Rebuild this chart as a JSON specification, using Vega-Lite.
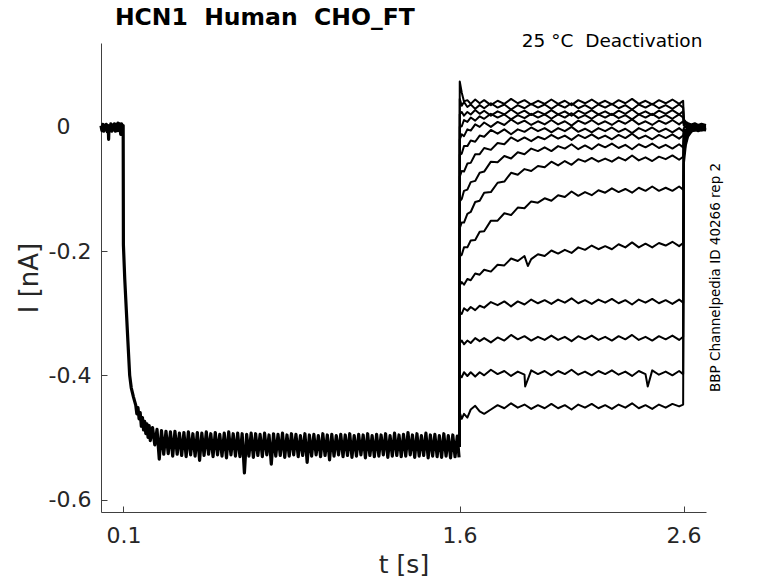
{
  "$schema": "https://vega.github.io/schema/vega-lite/v6.json",
  "width": 605,
  "height": 469,
  "autosize": {"type": "none"},
  "padding": {"left": 101, "top": 43, "right": 72, "bottom": 71},
  "background": "white",
  "config": {"view": {"stroke": null}, "font": "DejaVu Sans"},
  "datasets": {
    "sweeps": [
      {"s": "p", "t": 0, "I": 0.002}, {"s": "p", "t": 0.004, "I": -0.006}, {"s": "p", "t": 0.008, "I": 0.004},
      {"s": "p", "t": 0.012, "I": -0.007}, {"s": "p", "t": 0.016, "I": 0.003}, {"s": "p", "t": 0.02, "I": -0.005},
      {"s": "p", "t": 0.024, "I": 0.004}, {"s": "p", "t": 0.028, "I": -0.008}, {"s": "p", "t": 0.032, "I": 0.002},
      {"s": "p", "t": 0.034, "I": -0.02}, {"s": "p", "t": 0.036, "I": 0.001}, {"s": "p", "t": 0.04, "I": -0.006},
      {"s": "p", "t": 0.044, "I": 0.005}, {"s": "p", "t": 0.048, "I": -0.007}, {"s": "p", "t": 0.052, "I": 0.003},
      {"s": "p", "t": 0.056, "I": -0.005}, {"s": "p", "t": 0.06, "I": 0.005}, {"s": "p", "t": 0.064, "I": -0.007},
      {"s": "p", "t": 0.068, "I": 0.004}, {"s": "p", "t": 0.072, "I": -0.006}, {"s": "p", "t": 0.076, "I": 0.006},
      {"s": "p", "t": 0.08, "I": -0.006}, {"s": "p", "t": 0.084, "I": 0.005}, {"s": "p", "t": 0.088, "I": -0.012},
      {"s": "p", "t": 0.092, "I": 0.005}, {"s": "p", "t": 0.096, "I": -0.006}, {"s": "p", "t": 0.099, "I": 0.002},
      {"s": "p", "t": 0.1, "I": -0.19}, {"s": "p", "t": 0.106, "I": -0.245}, {"s": "p", "t": 0.113, "I": -0.295},
      {"s": "p", "t": 0.12, "I": -0.345}, {"s": "p", "t": 0.128, "I": -0.4}, {"s": "p", "t": 0.135, "I": -0.42},
      {"s": "p", "t": 0.145, "I": -0.435}, {"s": "p", "t": 0.155, "I": -0.448}, {"s": "p", "t": 0.16, "I": -0.462},
      {"s": "p", "t": 0.165, "I": -0.452}, {"s": "p", "t": 0.17, "I": -0.47}, {"s": "p", "t": 0.175, "I": -0.46},
      {"s": "p", "t": 0.18, "I": -0.482}, {"s": "p", "t": 0.185, "I": -0.468}, {"s": "p", "t": 0.19, "I": -0.488},
      {"s": "p", "t": 0.195, "I": -0.474}, {"s": "p", "t": 0.2, "I": -0.494}, {"s": "p", "t": 0.205, "I": -0.478},
      {"s": "p", "t": 0.21, "I": -0.5}, {"s": "p", "t": 0.215, "I": -0.481},
      {"s": "p", "t": 0.22, "I": -0.505}, {"s": "p", "t": 0.23, "I": -0.484}, {"s": "p", "t": 0.24, "I": -0.512},
      {"s": "p", "t": 0.25, "I": -0.487}, {"s": "p", "t": 0.26, "I": -0.535}, {"s": "p", "t": 0.27, "I": -0.489},
      {"s": "p", "t": 0.28, "I": -0.527}, {"s": "p", "t": 0.29, "I": -0.49}, {"s": "p", "t": 0.3, "I": -0.526},
      {"s": "p", "t": 0.31, "I": -0.491}, {"s": "p", "t": 0.32, "I": -0.53}, {"s": "p", "t": 0.33, "I": -0.49},
      {"s": "p", "t": 0.34, "I": -0.527}, {"s": "p", "t": 0.35, "I": -0.493}, {"s": "p", "t": 0.36, "I": -0.529},
      {"s": "p", "t": 0.37, "I": -0.492}, {"s": "p", "t": 0.38, "I": -0.531}, {"s": "p", "t": 0.39, "I": -0.491},
      {"s": "p", "t": 0.4, "I": -0.528}, {"s": "p", "t": 0.41, "I": -0.494}, {"s": "p", "t": 0.42, "I": -0.53},
      {"s": "p", "t": 0.43, "I": -0.492}, {"s": "p", "t": 0.44, "I": -0.537}, {"s": "p", "t": 0.45, "I": -0.493},
      {"s": "p", "t": 0.46, "I": -0.529}, {"s": "p", "t": 0.47, "I": -0.491}, {"s": "p", "t": 0.48, "I": -0.527},
      {"s": "p", "t": 0.49, "I": -0.494}, {"s": "p", "t": 0.5, "I": -0.531}, {"s": "p", "t": 0.51, "I": -0.492},
      {"s": "p", "t": 0.52, "I": -0.528}, {"s": "p", "t": 0.53, "I": -0.495}, {"s": "p", "t": 0.54, "I": -0.53},
      {"s": "p", "t": 0.55, "I": -0.493}, {"s": "p", "t": 0.56, "I": -0.533}, {"s": "p", "t": 0.57, "I": -0.491},
      {"s": "p", "t": 0.58, "I": -0.528}, {"s": "p", "t": 0.59, "I": -0.494}, {"s": "p", "t": 0.6, "I": -0.53},
      {"s": "p", "t": 0.61, "I": -0.493}, {"s": "p", "t": 0.62, "I": -0.531}, {"s": "p", "t": 0.63, "I": -0.494},
      {"s": "p", "t": 0.64, "I": -0.557}, {"s": "p", "t": 0.65, "I": -0.495}, {"s": "p", "t": 0.66, "I": -0.53},
      {"s": "p", "t": 0.67, "I": -0.493}, {"s": "p", "t": 0.68, "I": -0.532}, {"s": "p", "t": 0.69, "I": -0.494},
      {"s": "p", "t": 0.7, "I": -0.529}, {"s": "p", "t": 0.71, "I": -0.495}, {"s": "p", "t": 0.72, "I": -0.531},
      {"s": "p", "t": 0.73, "I": -0.493}, {"s": "p", "t": 0.74, "I": -0.528}, {"s": "p", "t": 0.75, "I": -0.496},
      {"s": "p", "t": 0.76, "I": -0.543}, {"s": "p", "t": 0.77, "I": -0.494}, {"s": "p", "t": 0.78, "I": -0.53},
      {"s": "p", "t": 0.79, "I": -0.495}, {"s": "p", "t": 0.8, "I": -0.529}, {"s": "p", "t": 0.81, "I": -0.493},
      {"s": "p", "t": 0.82, "I": -0.532}, {"s": "p", "t": 0.83, "I": -0.496}, {"s": "p", "t": 0.84, "I": -0.53},
      {"s": "p", "t": 0.85, "I": -0.494}, {"s": "p", "t": 0.86, "I": -0.528}, {"s": "p", "t": 0.87, "I": -0.495},
      {"s": "p", "t": 0.88, "I": -0.531}, {"s": "p", "t": 0.89, "I": -0.497}, {"s": "p", "t": 0.9, "I": -0.529},
      {"s": "p", "t": 0.91, "I": -0.494}, {"s": "p", "t": 0.92, "I": -0.54}, {"s": "p", "t": 0.93, "I": -0.496},
      {"s": "p", "t": 0.94, "I": -0.53}, {"s": "p", "t": 0.95, "I": -0.495}, {"s": "p", "t": 0.96, "I": -0.528},
      {"s": "p", "t": 0.97, "I": -0.497}, {"s": "p", "t": 0.98, "I": -0.531}, {"s": "p", "t": 0.99, "I": -0.494},
      {"s": "p", "t": 1.0, "I": -0.529}, {"s": "p", "t": 1.01, "I": -0.496}, {"s": "p", "t": 1.02, "I": -0.536},
      {"s": "p", "t": 1.03, "I": -0.495}, {"s": "p", "t": 1.04, "I": -0.53}, {"s": "p", "t": 1.05, "I": -0.497},
      {"s": "p", "t": 1.06, "I": -0.528}, {"s": "p", "t": 1.07, "I": -0.495}, {"s": "p", "t": 1.08, "I": -0.531},
      {"s": "p", "t": 1.09, "I": -0.496}, {"s": "p", "t": 1.1, "I": -0.529}, {"s": "p", "t": 1.11, "I": -0.494},
      {"s": "p", "t": 1.12, "I": -0.532}, {"s": "p", "t": 1.13, "I": -0.497}, {"s": "p", "t": 1.14, "I": -0.53},
      {"s": "p", "t": 1.15, "I": -0.495}, {"s": "p", "t": 1.16, "I": -0.528}, {"s": "p", "t": 1.17, "I": -0.496},
      {"s": "p", "t": 1.18, "I": -0.533}, {"s": "p", "t": 1.19, "I": -0.494}, {"s": "p", "t": 1.2, "I": -0.529},
      {"s": "p", "t": 1.21, "I": -0.497}, {"s": "p", "t": 1.22, "I": -0.531}, {"s": "p", "t": 1.23, "I": -0.495},
      {"s": "p", "t": 1.24, "I": -0.53}, {"s": "p", "t": 1.25, "I": -0.496}, {"s": "p", "t": 1.26, "I": -0.528},
      {"s": "p", "t": 1.27, "I": -0.494}, {"s": "p", "t": 1.28, "I": -0.532}, {"s": "p", "t": 1.29, "I": -0.497},
      {"s": "p", "t": 1.3, "I": -0.53}, {"s": "p", "t": 1.31, "I": -0.493}, {"s": "p", "t": 1.32, "I": -0.529},
      {"s": "p", "t": 1.33, "I": -0.496}, {"s": "p", "t": 1.34, "I": -0.531}, {"s": "p", "t": 1.35, "I": -0.495},
      {"s": "p", "t": 1.36, "I": -0.53}, {"s": "p", "t": 1.37, "I": -0.492}, {"s": "p", "t": 1.38, "I": -0.528},
      {"s": "p", "t": 1.39, "I": -0.496}, {"s": "p", "t": 1.4, "I": -0.532}, {"s": "p", "t": 1.41, "I": -0.494},
      {"s": "p", "t": 1.42, "I": -0.53}, {"s": "p", "t": 1.43, "I": -0.497}, {"s": "p", "t": 1.44, "I": -0.529},
      {"s": "p", "t": 1.45, "I": -0.493}, {"s": "p", "t": 1.46, "I": -0.533}, {"s": "p", "t": 1.47, "I": -0.496},
      {"s": "p", "t": 1.48, "I": -0.53}, {"s": "p", "t": 1.49, "I": -0.495}, {"s": "p", "t": 1.5, "I": -0.531},
      {"s": "p", "t": 1.51, "I": -0.497}, {"s": "p", "t": 1.52, "I": -0.532}, {"s": "p", "t": 1.53, "I": -0.494},
      {"s": "p", "t": 1.54, "I": -0.53}, {"s": "p", "t": 1.55, "I": -0.497}, {"s": "p", "t": 1.56, "I": -0.533},
      {"s": "p", "t": 1.57, "I": -0.496}, {"s": "p", "t": 1.58, "I": -0.531}, {"s": "p", "t": 1.59, "I": -0.498},
      {"s": "p", "t": 1.598, "I": -0.532},

      {"s": 1, "t": 1.6, "I": -0.515}, {"s": 1, "t": 1.601, "I": 0.073},
      {"s": 1, "t": 1.61, "I": 0.055}, {"s": 1, "t": 1.62, "I": 0.041}, {"s": 1, "t": 1.635, "I": 0.043}, {"s": 1, "t": 1.65, "I": 0.037},
      {"s": 1, "t": 1.67, "I": 0.044}, {"s": 1, "t": 1.69, "I": 0.038}, {"s": 1, "t": 1.71, "I": 0.043}, {"s": 1, "t": 1.74, "I": 0.035},
      {"s": 1, "t": 1.77, "I": 0.042}, {"s": 1, "t": 1.8, "I": 0.037}, {"s": 1, "t": 1.83, "I": 0.045}, {"s": 1, "t": 1.86, "I": 0.038},
      {"s": 1, "t": 1.89, "I": 0.043}, {"s": 1, "t": 1.92, "I": 0.036}, {"s": 1, "t": 1.95, "I": 0.042}, {"s": 1, "t": 1.98, "I": 0.037},
      {"s": 1, "t": 2.01, "I": 0.044}, {"s": 1, "t": 2.04, "I": 0.037}, {"s": 1, "t": 2.07, "I": 0.042}, {"s": 1, "t": 2.1, "I": 0.035},
      {"s": 1, "t": 2.13, "I": 0.043}, {"s": 1, "t": 2.16, "I": 0.038}, {"s": 1, "t": 2.19, "I": 0.044}, {"s": 1, "t": 2.22, "I": 0.037},
      {"s": 1, "t": 2.25, "I": 0.042}, {"s": 1, "t": 2.28, "I": 0.036}, {"s": 1, "t": 2.31, "I": 0.043}, {"s": 1, "t": 2.34, "I": 0.038},
      {"s": 1, "t": 2.37, "I": 0.045}, {"s": 1, "t": 2.4, "I": 0.037}, {"s": 1, "t": 2.43, "I": 0.042}, {"s": 1, "t": 2.46, "I": 0.036},
      {"s": 1, "t": 2.49, "I": 0.043}, {"s": 1, "t": 2.52, "I": 0.038}, {"s": 1, "t": 2.55, "I": 0.044}, {"s": 1, "t": 2.58, "I": 0.037},
      {"s": 1, "t": 2.598, "I": 0.042},
      {"s": 1, "t": 2.601, "I": 0.012}, {"s": 1, "t": 2.61, "I": 0.008}, {"s": 1, "t": 2.62, "I": 0.006}, {"s": 1, "t": 2.635, "I": 0.004},
      {"s": 1, "t": 2.65, "I": 0.006}, {"s": 1, "t": 2.665, "I": 0.003}, {"s": 1, "t": 2.68, "I": 0.005}, {"s": 1, "t": 2.7, "I": 0.003},

      {"s": 2, "t": 1.6, "I": -0.515}, {"s": 2, "t": 1.601, "I": 0.045},
      {"s": 2, "t": 1.61, "I": 0.034}, {"s": 2, "t": 1.62, "I": 0.04}, {"s": 2, "t": 1.635, "I": 0.032}, {"s": 2, "t": 1.65, "I": 0.036},
      {"s": 2, "t": 1.67, "I": 0.029}, {"s": 2, "t": 1.69, "I": 0.035}, {"s": 2, "t": 1.71, "I": 0.03}, {"s": 2, "t": 1.74, "I": 0.038},
      {"s": 2, "t": 1.77, "I": 0.031}, {"s": 2, "t": 1.8, "I": 0.036}, {"s": 2, "t": 1.83, "I": 0.028}, {"s": 2, "t": 1.86, "I": 0.035},
      {"s": 2, "t": 1.89, "I": 0.03}, {"s": 2, "t": 1.92, "I": 0.037}, {"s": 2, "t": 1.95, "I": 0.031}, {"s": 2, "t": 1.98, "I": 0.036},
      {"s": 2, "t": 2.01, "I": 0.029}, {"s": 2, "t": 2.04, "I": 0.036}, {"s": 2, "t": 2.07, "I": 0.031}, {"s": 2, "t": 2.1, "I": 0.038},
      {"s": 2, "t": 2.13, "I": 0.03}, {"s": 2, "t": 2.16, "I": 0.035}, {"s": 2, "t": 2.19, "I": 0.029}, {"s": 2, "t": 2.22, "I": 0.036},
      {"s": 2, "t": 2.25, "I": 0.031}, {"s": 2, "t": 2.28, "I": 0.037}, {"s": 2, "t": 2.31, "I": 0.03}, {"s": 2, "t": 2.34, "I": 0.035},
      {"s": 2, "t": 2.37, "I": 0.028}, {"s": 2, "t": 2.4, "I": 0.036}, {"s": 2, "t": 2.43, "I": 0.031}, {"s": 2, "t": 2.46, "I": 0.037},
      {"s": 2, "t": 2.49, "I": 0.03}, {"s": 2, "t": 2.52, "I": 0.035}, {"s": 2, "t": 2.55, "I": 0.029}, {"s": 2, "t": 2.58, "I": 0.036},
      {"s": 2, "t": 2.598, "I": 0.031},
      {"s": 2, "t": 2.601, "I": 0.01}, {"s": 2, "t": 2.61, "I": 0.006}, {"s": 2, "t": 2.62, "I": 0.005}, {"s": 2, "t": 2.635, "I": 0.002},
      {"s": 2, "t": 2.65, "I": 0.004}, {"s": 2, "t": 2.665, "I": 0.001}, {"s": 2, "t": 2.68, "I": 0.004}, {"s": 2, "t": 2.7, "I": 0.002},

      {"s": 3, "t": 1.6, "I": -0.515}, {"s": 3, "t": 1.601, "I": 0.02},
      {"s": 3, "t": 1.61, "I": 0.024}, {"s": 3, "t": 1.62, "I": 0.018}, {"s": 3, "t": 1.635, "I": 0.024}, {"s": 3, "t": 1.65, "I": 0.02},
      {"s": 3, "t": 1.67, "I": 0.027}, {"s": 3, "t": 1.69, "I": 0.021}, {"s": 3, "t": 1.71, "I": 0.026}, {"s": 3, "t": 1.74, "I": 0.018},
      {"s": 3, "t": 1.77, "I": 0.025}, {"s": 3, "t": 1.8, "I": 0.02}, {"s": 3, "t": 1.83, "I": 0.028}, {"s": 3, "t": 1.86, "I": 0.021},
      {"s": 3, "t": 1.89, "I": 0.026}, {"s": 3, "t": 1.92, "I": 0.019}, {"s": 3, "t": 1.95, "I": 0.025}, {"s": 3, "t": 1.98, "I": 0.02},
      {"s": 3, "t": 2.01, "I": 0.027}, {"s": 3, "t": 2.04, "I": 0.02}, {"s": 3, "t": 2.07, "I": 0.025}, {"s": 3, "t": 2.1, "I": 0.018},
      {"s": 3, "t": 2.13, "I": 0.026}, {"s": 3, "t": 2.16, "I": 0.021}, {"s": 3, "t": 2.19, "I": 0.027}, {"s": 3, "t": 2.22, "I": 0.02},
      {"s": 3, "t": 2.25, "I": 0.025}, {"s": 3, "t": 2.28, "I": 0.019}, {"s": 3, "t": 2.31, "I": 0.026}, {"s": 3, "t": 2.34, "I": 0.021},
      {"s": 3, "t": 2.37, "I": 0.028}, {"s": 3, "t": 2.4, "I": 0.02}, {"s": 3, "t": 2.43, "I": 0.025}, {"s": 3, "t": 2.46, "I": 0.019},
      {"s": 3, "t": 2.49, "I": 0.026}, {"s": 3, "t": 2.52, "I": 0.021}, {"s": 3, "t": 2.55, "I": 0.027}, {"s": 3, "t": 2.58, "I": 0.02},
      {"s": 3, "t": 2.598, "I": 0.025},
      {"s": 3, "t": 2.601, "I": 0.008}, {"s": 3, "t": 2.61, "I": 0.005}, {"s": 3, "t": 2.62, "I": 0.003}, {"s": 3, "t": 2.635, "I": 0.003},
      {"s": 3, "t": 2.65, "I": 0.001}, {"s": 3, "t": 2.665, "I": 0.003}, {"s": 3, "t": 2.68, "I": 0.001}, {"s": 3, "t": 2.7, "I": 0.002},

      {"s": 4, "t": 1.6, "I": -0.515}, {"s": 4, "t": 1.601, "I": 0.0},
      {"s": 4, "t": 1.61, "I": 0.001}, {"s": 4, "t": 1.62, "I": 0.011}, {"s": 4, "t": 1.635, "I": 0.008}, {"s": 4, "t": 1.65, "I": 0.015},
      {"s": 4, "t": 1.67, "I": 0.01}, {"s": 4, "t": 1.69, "I": 0.017}, {"s": 4, "t": 1.71, "I": 0.013}, {"s": 4, "t": 1.74, "I": 0.021},
      {"s": 4, "t": 1.77, "I": 0.015}, {"s": 4, "t": 1.8, "I": 0.02}, {"s": 4, "t": 1.83, "I": 0.012}, {"s": 4, "t": 1.86, "I": 0.019},
      {"s": 4, "t": 1.89, "I": 0.014}, {"s": 4, "t": 1.92, "I": 0.021}, {"s": 4, "t": 1.95, "I": 0.015}, {"s": 4, "t": 1.98, "I": 0.02},
      {"s": 4, "t": 2.01, "I": 0.013}, {"s": 4, "t": 2.04, "I": 0.02}, {"s": 4, "t": 2.07, "I": 0.015}, {"s": 4, "t": 2.1, "I": 0.022},
      {"s": 4, "t": 2.13, "I": 0.014}, {"s": 4, "t": 2.16, "I": 0.019}, {"s": 4, "t": 2.19, "I": 0.013}, {"s": 4, "t": 2.22, "I": 0.02},
      {"s": 4, "t": 2.25, "I": 0.015}, {"s": 4, "t": 2.28, "I": 0.021}, {"s": 4, "t": 2.31, "I": 0.014}, {"s": 4, "t": 2.34, "I": 0.019},
      {"s": 4, "t": 2.37, "I": 0.012}, {"s": 4, "t": 2.4, "I": 0.02}, {"s": 4, "t": 2.43, "I": 0.015}, {"s": 4, "t": 2.46, "I": 0.021},
      {"s": 4, "t": 2.49, "I": 0.014}, {"s": 4, "t": 2.52, "I": 0.019}, {"s": 4, "t": 2.55, "I": 0.013}, {"s": 4, "t": 2.58, "I": 0.02},
      {"s": 4, "t": 2.598, "I": 0.015},
      {"s": 4, "t": 2.601, "I": 0.005}, {"s": 4, "t": 2.61, "I": 0.003}, {"s": 4, "t": 2.62, "I": 0.001}, {"s": 4, "t": 2.635, "I": 0.002},
      {"s": 4, "t": 2.65, "I": 0.0}, {"s": 4, "t": 2.665, "I": 0.002}, {"s": 4, "t": 2.68, "I": 0.0}, {"s": 4, "t": 2.7, "I": 0.001},

      {"s": 5, "t": 1.6, "I": -0.515}, {"s": 5, "t": 1.601, "I": -0.02},
      {"s": 5, "t": 1.61, "I": -0.012}, {"s": 5, "t": 1.62, "I": -0.015}, {"s": 5, "t": 1.635, "I": -0.004}, {"s": 5, "t": 1.65, "I": -0.006},
      {"s": 5, "t": 1.67, "I": 0.004}, {"s": 5, "t": 1.69, "I": 0.0}, {"s": 5, "t": 1.71, "I": 0.007}, {"s": 5, "t": 1.74, "I": 0.0},
      {"s": 5, "t": 1.77, "I": 0.008}, {"s": 5, "t": 1.8, "I": 0.003}, {"s": 5, "t": 1.83, "I": 0.012}, {"s": 5, "t": 1.86, "I": 0.005},
      {"s": 5, "t": 1.89, "I": 0.01}, {"s": 5, "t": 1.92, "I": 0.003}, {"s": 5, "t": 1.95, "I": 0.009}, {"s": 5, "t": 1.98, "I": 0.004},
      {"s": 5, "t": 2.01, "I": 0.011}, {"s": 5, "t": 2.04, "I": 0.004}, {"s": 5, "t": 2.07, "I": 0.009}, {"s": 5, "t": 2.1, "I": 0.002},
      {"s": 5, "t": 2.13, "I": 0.01}, {"s": 5, "t": 2.16, "I": 0.005}, {"s": 5, "t": 2.19, "I": 0.011}, {"s": 5, "t": 2.22, "I": 0.004},
      {"s": 5, "t": 2.25, "I": 0.009}, {"s": 5, "t": 2.28, "I": 0.003}, {"s": 5, "t": 2.31, "I": 0.01}, {"s": 5, "t": 2.34, "I": 0.005},
      {"s": 5, "t": 2.37, "I": 0.012}, {"s": 5, "t": 2.4, "I": 0.004}, {"s": 5, "t": 2.43, "I": 0.009}, {"s": 5, "t": 2.46, "I": 0.003},
      {"s": 5, "t": 2.49, "I": 0.01}, {"s": 5, "t": 2.52, "I": 0.005}, {"s": 5, "t": 2.55, "I": 0.011}, {"s": 5, "t": 2.58, "I": 0.004},
      {"s": 5, "t": 2.598, "I": 0.009},
      {"s": 5, "t": 2.601, "I": 0.002}, {"s": 5, "t": 2.61, "I": 0.0}, {"s": 5, "t": 2.62, "I": 0.002}, {"s": 5, "t": 2.635, "I": -0.001},
      {"s": 5, "t": 2.65, "I": 0.001}, {"s": 5, "t": 2.665, "I": -0.001}, {"s": 5, "t": 2.68, "I": 0.001}, {"s": 5, "t": 2.7, "I": 0.0},

      {"s": 6, "t": 1.6, "I": -0.515}, {"s": 6, "t": 1.601, "I": -0.045},
      {"s": 6, "t": 1.61, "I": -0.043}, {"s": 6, "t": 1.62, "I": -0.031}, {"s": 6, "t": 1.635, "I": -0.031}, {"s": 6, "t": 1.65, "I": -0.022},
      {"s": 6, "t": 1.67, "I": -0.024}, {"s": 6, "t": 1.69, "I": -0.014}, {"s": 6, "t": 1.71, "I": -0.016}, {"s": 6, "t": 1.74, "I": -0.005},
      {"s": 6, "t": 1.77, "I": -0.011}, {"s": 6, "t": 1.8, "I": -0.004}, {"s": 6, "t": 1.83, "I": -0.012}, {"s": 6, "t": 1.86, "I": -0.004},
      {"s": 6, "t": 1.89, "I": -0.008}, {"s": 6, "t": 1.92, "I": -0.001}, {"s": 6, "t": 1.95, "I": -0.007}, {"s": 6, "t": 1.98, "I": -0.002},
      {"s": 6, "t": 2.01, "I": -0.009}, {"s": 6, "t": 2.04, "I": -0.002}, {"s": 6, "t": 2.07, "I": -0.007}, {"s": 6, "t": 2.1, "I": 0.0},
      {"s": 6, "t": 2.13, "I": -0.008}, {"s": 6, "t": 2.16, "I": -0.003}, {"s": 6, "t": 2.19, "I": -0.009}, {"s": 6, "t": 2.22, "I": -0.002},
      {"s": 6, "t": 2.25, "I": -0.007}, {"s": 6, "t": 2.28, "I": -0.001}, {"s": 6, "t": 2.31, "I": -0.008}, {"s": 6, "t": 2.34, "I": -0.003},
      {"s": 6, "t": 2.37, "I": -0.01}, {"s": 6, "t": 2.4, "I": -0.002}, {"s": 6, "t": 2.43, "I": -0.007}, {"s": 6, "t": 2.46, "I": -0.001},
      {"s": 6, "t": 2.49, "I": -0.008}, {"s": 6, "t": 2.52, "I": -0.003}, {"s": 6, "t": 2.55, "I": -0.009}, {"s": 6, "t": 2.58, "I": -0.002},
      {"s": 6, "t": 2.598, "I": -0.007},
      {"s": 6, "t": 2.601, "I": -0.002}, {"s": 6, "t": 2.61, "I": 0.0}, {"s": 6, "t": 2.62, "I": -0.002}, {"s": 6, "t": 2.635, "I": 0.0},
      {"s": 6, "t": 2.65, "I": -0.002}, {"s": 6, "t": 2.665, "I": 0.001}, {"s": 6, "t": 2.68, "I": -0.001}, {"s": 6, "t": 2.7, "I": 0.0},

      {"s": 7, "t": 1.6, "I": -0.515}, {"s": 7, "t": 1.601, "I": -0.08},
      {"s": 7, "t": 1.61, "I": -0.071}, {"s": 7, "t": 1.62, "I": -0.072}, {"s": 7, "t": 1.635, "I": -0.059}, {"s": 7, "t": 1.65, "I": -0.058},
      {"s": 7, "t": 1.67, "I": -0.044}, {"s": 7, "t": 1.69, "I": -0.044}, {"s": 7, "t": 1.71, "I": -0.034}, {"s": 7, "t": 1.74, "I": -0.037},
      {"s": 7, "t": 1.77, "I": -0.026}, {"s": 7, "t": 1.8, "I": -0.028}, {"s": 7, "t": 1.83, "I": -0.017}, {"s": 7, "t": 1.86, "I": -0.023},
      {"s": 7, "t": 1.89, "I": -0.017}, {"s": 7, "t": 1.92, "I": -0.023}, {"s": 7, "t": 1.95, "I": -0.016}, {"s": 7, "t": 1.98, "I": -0.02},
      {"s": 7, "t": 2.01, "I": -0.013}, {"s": 7, "t": 2.04, "I": -0.019}, {"s": 7, "t": 2.07, "I": -0.014}, {"s": 7, "t": 2.1, "I": -0.021},
      {"s": 7, "t": 2.13, "I": -0.013}, {"s": 7, "t": 2.16, "I": -0.018}, {"s": 7, "t": 2.19, "I": -0.012}, {"s": 7, "t": 2.22, "I": -0.019},
      {"s": 7, "t": 2.25, "I": -0.014}, {"s": 7, "t": 2.28, "I": -0.02}, {"s": 7, "t": 2.31, "I": -0.013}, {"s": 7, "t": 2.34, "I": -0.018},
      {"s": 7, "t": 2.37, "I": -0.011}, {"s": 7, "t": 2.4, "I": -0.019}, {"s": 7, "t": 2.43, "I": -0.014}, {"s": 7, "t": 2.46, "I": -0.02},
      {"s": 7, "t": 2.49, "I": -0.013}, {"s": 7, "t": 2.52, "I": -0.018}, {"s": 7, "t": 2.55, "I": -0.012}, {"s": 7, "t": 2.58, "I": -0.019},
      {"s": 7, "t": 2.598, "I": -0.014},
      {"s": 7, "t": 2.601, "I": -0.005}, {"s": 7, "t": 2.61, "I": -0.004}, {"s": 7, "t": 2.62, "I": -0.002}, {"s": 7, "t": 2.635, "I": -0.003},
      {"s": 7, "t": 2.65, "I": 0.0}, {"s": 7, "t": 2.665, "I": -0.002}, {"s": 7, "t": 2.68, "I": -0.001}, {"s": 7, "t": 2.7, "I": -0.002},

      {"s": 8, "t": 1.6, "I": -0.515}, {"s": 8, "t": 1.601, "I": -0.12},
      {"s": 8, "t": 1.61, "I": -0.116}, {"s": 8, "t": 1.62, "I": -0.103}, {"s": 8, "t": 1.635, "I": -0.101}, {"s": 8, "t": 1.65, "I": -0.089},
      {"s": 8, "t": 1.67, "I": -0.087}, {"s": 8, "t": 1.69, "I": -0.074}, {"s": 8, "t": 1.71, "I": -0.072}, {"s": 8, "t": 1.74, "I": -0.056},
      {"s": 8, "t": 1.77, "I": -0.057}, {"s": 8, "t": 1.8, "I": -0.047}, {"s": 8, "t": 1.83, "I": -0.051}, {"s": 8, "t": 1.86, "I": -0.041},
      {"s": 8, "t": 1.89, "I": -0.044}, {"s": 8, "t": 1.92, "I": -0.035}, {"s": 8, "t": 1.95, "I": -0.039}, {"s": 8, "t": 1.98, "I": -0.033},
      {"s": 8, "t": 2.01, "I": -0.039}, {"s": 8, "t": 2.04, "I": -0.031}, {"s": 8, "t": 2.07, "I": -0.035}, {"s": 8, "t": 2.1, "I": -0.028},
      {"s": 8, "t": 2.13, "I": -0.036}, {"s": 8, "t": 2.16, "I": -0.03}, {"s": 8, "t": 2.19, "I": -0.036}, {"s": 8, "t": 2.22, "I": -0.028},
      {"s": 8, "t": 2.25, "I": -0.033}, {"s": 8, "t": 2.28, "I": -0.027}, {"s": 8, "t": 2.31, "I": -0.034}, {"s": 8, "t": 2.34, "I": -0.029},
      {"s": 8, "t": 2.37, "I": -0.036}, {"s": 8, "t": 2.4, "I": -0.028}, {"s": 8, "t": 2.43, "I": -0.033}, {"s": 8, "t": 2.46, "I": -0.027},
      {"s": 8, "t": 2.49, "I": -0.034}, {"s": 8, "t": 2.52, "I": -0.029}, {"s": 8, "t": 2.55, "I": -0.035}, {"s": 8, "t": 2.58, "I": -0.028},
      {"s": 8, "t": 2.598, "I": -0.033},
      {"s": 8, "t": 2.601, "I": -0.008}, {"s": 8, "t": 2.61, "I": -0.005}, {"s": 8, "t": 2.62, "I": -0.004}, {"s": 8, "t": 2.635, "I": -0.002},
      {"s": 8, "t": 2.65, "I": -0.003}, {"s": 8, "t": 2.665, "I": -0.001}, {"s": 8, "t": 2.68, "I": -0.003}, {"s": 8, "t": 2.7, "I": -0.001},

      {"s": 9, "t": 1.6, "I": -0.515}, {"s": 9, "t": 1.601, "I": -0.163},
      {"s": 9, "t": 1.61, "I": -0.154}, {"s": 9, "t": 1.62, "I": -0.154}, {"s": 9, "t": 1.635, "I": -0.14}, {"s": 9, "t": 1.65, "I": -0.137},
      {"s": 9, "t": 1.67, "I": -0.121}, {"s": 9, "t": 1.69, "I": -0.119}, {"s": 9, "t": 1.71, "I": -0.106}, {"s": 9, "t": 1.74, "I": -0.105},
      {"s": 9, "t": 1.77, "I": -0.09}, {"s": 9, "t": 1.8, "I": -0.088}, {"s": 9, "t": 1.83, "I": -0.074}, {"s": 9, "t": 1.86, "I": -0.077},
      {"s": 9, "t": 1.89, "I": -0.068}, {"s": 9, "t": 1.92, "I": -0.071}, {"s": 9, "t": 1.95, "I": -0.063}, {"s": 9, "t": 1.98, "I": -0.065},
      {"s": 9, "t": 2.01, "I": -0.056}, {"s": 9, "t": 2.04, "I": -0.062}, {"s": 9, "t": 2.07, "I": -0.055}, {"s": 9, "t": 2.1, "I": -0.061},
      {"s": 9, "t": 2.13, "I": -0.052}, {"s": 9, "t": 2.16, "I": -0.056}, {"s": 9, "t": 2.19, "I": -0.05}, {"s": 9, "t": 2.22, "I": -0.056},
      {"s": 9, "t": 2.25, "I": -0.051}, {"s": 9, "t": 2.28, "I": -0.056}, {"s": 9, "t": 2.31, "I": -0.049}, {"s": 9, "t": 2.34, "I": -0.054},
      {"s": 9, "t": 2.37, "I": -0.046}, {"s": 9, "t": 2.4, "I": -0.054}, {"s": 9, "t": 2.43, "I": -0.049}, {"s": 9, "t": 2.46, "I": -0.055},
      {"s": 9, "t": 2.49, "I": -0.048}, {"s": 9, "t": 2.52, "I": -0.052}, {"s": 9, "t": 2.55, "I": -0.046}, {"s": 9, "t": 2.58, "I": -0.053},
      {"s": 9, "t": 2.598, "I": -0.048},
      {"s": 9, "t": 2.601, "I": -0.012}, {"s": 9, "t": 2.61, "I": -0.008}, {"s": 9, "t": 2.62, "I": -0.005}, {"s": 9, "t": 2.635, "I": -0.004},
      {"s": 9, "t": 2.65, "I": -0.002}, {"s": 9, "t": 2.665, "I": -0.004}, {"s": 9, "t": 2.68, "I": -0.002}, {"s": 9, "t": 2.7, "I": -0.003},

      {"s": 10, "t": 1.6, "I": -0.515}, {"s": 10, "t": 1.601, "I": -0.208},
      {"s": 10, "t": 1.61, "I": -0.206}, {"s": 10, "t": 1.62, "I": -0.194}, {"s": 10, "t": 1.635, "I": -0.194}, {"s": 10, "t": 1.65, "I": -0.183},
      {"s": 10, "t": 1.67, "I": -0.182}, {"s": 10, "t": 1.69, "I": -0.169}, {"s": 10, "t": 1.71, "I": -0.168}, {"s": 10, "t": 1.74, "I": -0.151},
      {"s": 10, "t": 1.77, "I": -0.151}, {"s": 10, "t": 1.8, "I": -0.139}, {"s": 10, "t": 1.83, "I": -0.142}, {"s": 10, "t": 1.86, "I": -0.13},
      {"s": 10, "t": 1.89, "I": -0.131}, {"s": 10, "t": 1.92, "I": -0.12}, {"s": 10, "t": 1.95, "I": -0.122}, {"s": 10, "t": 1.98, "I": -0.115},
      {"s": 10, "t": 2.01, "I": -0.119}, {"s": 10, "t": 2.04, "I": -0.11}, {"s": 10, "t": 2.07, "I": -0.113}, {"s": 10, "t": 2.1, "I": -0.104},
      {"s": 10, "t": 2.13, "I": -0.111}, {"s": 10, "t": 2.16, "I": -0.105}, {"s": 10, "t": 2.19, "I": -0.11}, {"s": 10, "t": 2.22, "I": -0.102},
      {"s": 10, "t": 2.25, "I": -0.106}, {"s": 10, "t": 2.28, "I": -0.099}, {"s": 10, "t": 2.31, "I": -0.105}, {"s": 10, "t": 2.34, "I": -0.1},
      {"s": 10, "t": 2.37, "I": -0.106}, {"s": 10, "t": 2.4, "I": -0.098}, {"s": 10, "t": 2.43, "I": -0.103}, {"s": 10, "t": 2.46, "I": -0.096},
      {"s": 10, "t": 2.49, "I": -0.103}, {"s": 10, "t": 2.52, "I": -0.098}, {"s": 10, "t": 2.55, "I": -0.103}, {"s": 10, "t": 2.58, "I": -0.096},
      {"s": 10, "t": 2.598, "I": -0.101},
      {"s": 10, "t": 2.601, "I": -0.016}, {"s": 10, "t": 2.61, "I": -0.009}, {"s": 10, "t": 2.62, "I": -0.006}, {"s": 10, "t": 2.635, "I": -0.003},
      {"s": 10, "t": 2.65, "I": -0.005}, {"s": 10, "t": 2.665, "I": -0.002}, {"s": 10, "t": 2.68, "I": -0.004}, {"s": 10, "t": 2.7, "I": -0.002},

      {"s": 11, "t": 1.6, "I": -0.515}, {"s": 11, "t": 1.601, "I": -0.255},
      {"s": 11, "t": 1.61, "I": -0.25}, {"s": 11, "t": 1.62, "I": -0.254}, {"s": 11, "t": 1.635, "I": -0.245}, {"s": 11, "t": 1.65, "I": -0.247},
      {"s": 11, "t": 1.67, "I": -0.236}, {"s": 11, "t": 1.69, "I": -0.238}, {"s": 11, "t": 1.71, "I": -0.23}, {"s": 11, "t": 1.74, "I": -0.233},
      {"s": 11, "t": 1.77, "I": -0.222}, {"s": 11, "t": 1.8, "I": -0.223}, {"s": 11, "t": 1.83, "I": -0.212}, {"s": 11, "t": 1.86, "I": -0.216},
      {"s": 11, "t": 1.89, "I": -0.208}, {"s": 11, "t": 1.905, "I": -0.224}, {"s": 11, "t": 1.92, "I": -0.213}, {"s": 11, "t": 1.95, "I": -0.205},
      {"s": 11, "t": 1.98, "I": -0.208},
      {"s": 11, "t": 2.01, "I": -0.199}, {"s": 11, "t": 2.04, "I": -0.204}, {"s": 11, "t": 2.07, "I": -0.198}, {"s": 11, "t": 2.1, "I": -0.203},
      {"s": 11, "t": 2.13, "I": -0.194}, {"s": 11, "t": 2.16, "I": -0.198}, {"s": 11, "t": 2.19, "I": -0.191}, {"s": 11, "t": 2.22, "I": -0.197},
      {"s": 11, "t": 2.25, "I": -0.192}, {"s": 11, "t": 2.28, "I": -0.197}, {"s": 11, "t": 2.31, "I": -0.189}, {"s": 11, "t": 2.34, "I": -0.194},
      {"s": 11, "t": 2.37, "I": -0.186}, {"s": 11, "t": 2.4, "I": -0.194}, {"s": 11, "t": 2.43, "I": -0.188}, {"s": 11, "t": 2.46, "I": -0.194},
      {"s": 11, "t": 2.49, "I": -0.187}, {"s": 11, "t": 2.52, "I": -0.191}, {"s": 11, "t": 2.55, "I": -0.185}, {"s": 11, "t": 2.58, "I": -0.192},
      {"s": 11, "t": 2.598, "I": -0.187},
      {"s": 11, "t": 2.601, "I": -0.022}, {"s": 11, "t": 2.61, "I": -0.012}, {"s": 11, "t": 2.62, "I": -0.008}, {"s": 11, "t": 2.635, "I": -0.005},
      {"s": 11, "t": 2.65, "I": -0.003}, {"s": 11, "t": 2.665, "I": -0.005}, {"s": 11, "t": 2.68, "I": -0.003}, {"s": 11, "t": 2.7, "I": -0.004},

      {"s": 12, "t": 1.6, "I": -0.515}, {"s": 12, "t": 1.601, "I": -0.299},
      {"s": 12, "t": 1.61, "I": -0.301}, {"s": 12, "t": 1.62, "I": -0.292}, {"s": 12, "t": 1.635, "I": -0.296}, {"s": 12, "t": 1.65, "I": -0.29},
      {"s": 12, "t": 1.67, "I": -0.295}, {"s": 12, "t": 1.69, "I": -0.288}, {"s": 12, "t": 1.71, "I": -0.291}, {"s": 12, "t": 1.74, "I": -0.282},
      {"s": 12, "t": 1.77, "I": -0.287}, {"s": 12, "t": 1.8, "I": -0.281}, {"s": 12, "t": 1.83, "I": -0.289}, {"s": 12, "t": 1.86, "I": -0.281},
      {"s": 12, "t": 1.89, "I": -0.286}, {"s": 12, "t": 1.92, "I": -0.278}, {"s": 12, "t": 1.95, "I": -0.284}, {"s": 12, "t": 1.98, "I": -0.279},
      {"s": 12, "t": 2.01, "I": -0.285}, {"s": 12, "t": 2.04, "I": -0.278}, {"s": 12, "t": 2.07, "I": -0.283}, {"s": 12, "t": 2.1, "I": -0.276},
      {"s": 12, "t": 2.13, "I": -0.284}, {"s": 12, "t": 2.16, "I": -0.279}, {"s": 12, "t": 2.19, "I": -0.285}, {"s": 12, "t": 2.22, "I": -0.278},
      {"s": 12, "t": 2.25, "I": -0.283}, {"s": 12, "t": 2.28, "I": -0.277}, {"s": 12, "t": 2.31, "I": -0.284}, {"s": 12, "t": 2.34, "I": -0.279},
      {"s": 12, "t": 2.37, "I": -0.286}, {"s": 12, "t": 2.4, "I": -0.278}, {"s": 12, "t": 2.43, "I": -0.283}, {"s": 12, "t": 2.46, "I": -0.277},
      {"s": 12, "t": 2.49, "I": -0.284}, {"s": 12, "t": 2.52, "I": -0.279}, {"s": 12, "t": 2.55, "I": -0.285}, {"s": 12, "t": 2.58, "I": -0.278},
      {"s": 12, "t": 2.598, "I": -0.283},
      {"s": 12, "t": 2.601, "I": -0.03}, {"s": 12, "t": 2.61, "I": -0.016}, {"s": 12, "t": 2.62, "I": -0.009}, {"s": 12, "t": 2.635, "I": -0.005},
      {"s": 12, "t": 2.65, "I": -0.006}, {"s": 12, "t": 2.665, "I": -0.003}, {"s": 12, "t": 2.68, "I": -0.005}, {"s": 12, "t": 2.7, "I": -0.003},

      {"s": 13, "t": 1.6, "I": -0.515}, {"s": 13, "t": 1.601, "I": -0.348},
      {"s": 13, "t": 1.61, "I": -0.344}, {"s": 13, "t": 1.62, "I": -0.35}, {"s": 13, "t": 1.635, "I": -0.344}, {"s": 13, "t": 1.65, "I": -0.348},
      {"s": 13, "t": 1.67, "I": -0.34}, {"s": 13, "t": 1.69, "I": -0.345}, {"s": 13, "t": 1.71, "I": -0.34}, {"s": 13, "t": 1.74, "I": -0.347},
      {"s": 13, "t": 1.77, "I": -0.339}, {"s": 13, "t": 1.8, "I": -0.344}, {"s": 13, "t": 1.83, "I": -0.335}, {"s": 13, "t": 1.86, "I": -0.342},
      {"s": 13, "t": 1.89, "I": -0.337}, {"s": 13, "t": 1.92, "I": -0.344}, {"s": 13, "t": 1.95, "I": -0.338}, {"s": 13, "t": 1.98, "I": -0.343},
      {"s": 13, "t": 2.01, "I": -0.336}, {"s": 13, "t": 2.04, "I": -0.343}, {"s": 13, "t": 2.07, "I": -0.338}, {"s": 13, "t": 2.1, "I": -0.345},
      {"s": 13, "t": 2.13, "I": -0.337}, {"s": 13, "t": 2.16, "I": -0.342}, {"s": 13, "t": 2.19, "I": -0.336}, {"s": 13, "t": 2.22, "I": -0.343},
      {"s": 13, "t": 2.25, "I": -0.338}, {"s": 13, "t": 2.28, "I": -0.344}, {"s": 13, "t": 2.31, "I": -0.337}, {"s": 13, "t": 2.34, "I": -0.342},
      {"s": 13, "t": 2.37, "I": -0.335}, {"s": 13, "t": 2.4, "I": -0.343}, {"s": 13, "t": 2.43, "I": -0.338}, {"s": 13, "t": 2.46, "I": -0.344},
      {"s": 13, "t": 2.49, "I": -0.337}, {"s": 13, "t": 2.52, "I": -0.342}, {"s": 13, "t": 2.55, "I": -0.336}, {"s": 13, "t": 2.58, "I": -0.343},
      {"s": 13, "t": 2.598, "I": -0.338},
      {"s": 13, "t": 2.601, "I": -0.038}, {"s": 13, "t": 2.61, "I": -0.02}, {"s": 13, "t": 2.62, "I": -0.011}, {"s": 13, "t": 2.635, "I": -0.006},
      {"s": 13, "t": 2.65, "I": -0.004}, {"s": 13, "t": 2.665, "I": -0.006}, {"s": 13, "t": 2.68, "I": -0.004}, {"s": 13, "t": 2.7, "I": -0.005},

      {"s": 14, "t": 1.6, "I": -0.515}, {"s": 14, "t": 1.601, "I": -0.4},
      {"s": 14, "t": 1.61, "I": -0.403}, {"s": 14, "t": 1.62, "I": -0.395}, {"s": 14, "t": 1.635, "I": -0.401}, {"s": 14, "t": 1.65, "I": -0.395},
      {"s": 14, "t": 1.67, "I": -0.402}, {"s": 14, "t": 1.69, "I": -0.395}, {"s": 14, "t": 1.71, "I": -0.4}, {"s": 14, "t": 1.74, "I": -0.391},
      {"s": 14, "t": 1.77, "I": -0.398}, {"s": 14, "t": 1.8, "I": -0.393}, {"s": 14, "t": 1.83, "I": -0.401}, {"s": 14, "t": 1.86, "I": -0.394},
      {"s": 14, "t": 1.89, "I": -0.399}, {"s": 14, "t": 1.893, "I": -0.418}, {"s": 14, "t": 1.92, "I": -0.392}, {"s": 14, "t": 1.95, "I": -0.398},
      {"s": 14, "t": 1.98, "I": -0.393},
      {"s": 14, "t": 2.01, "I": -0.4}, {"s": 14, "t": 2.04, "I": -0.393}, {"s": 14, "t": 2.07, "I": -0.398}, {"s": 14, "t": 2.1, "I": -0.391},
      {"s": 14, "t": 2.13, "I": -0.399}, {"s": 14, "t": 2.16, "I": -0.394}, {"s": 14, "t": 2.19, "I": -0.4}, {"s": 14, "t": 2.22, "I": -0.393},
      {"s": 14, "t": 2.25, "I": -0.398}, {"s": 14, "t": 2.28, "I": -0.392}, {"s": 14, "t": 2.31, "I": -0.399}, {"s": 14, "t": 2.34, "I": -0.394},
      {"s": 14, "t": 2.37, "I": -0.401}, {"s": 14, "t": 2.4, "I": -0.393}, {"s": 14, "t": 2.43, "I": -0.398}, {"s": 14, "t": 2.44, "I": -0.418},
      {"s": 14, "t": 2.46, "I": -0.392},
      {"s": 14, "t": 2.49, "I": -0.399}, {"s": 14, "t": 2.52, "I": -0.394}, {"s": 14, "t": 2.55, "I": -0.4}, {"s": 14, "t": 2.58, "I": -0.393},
      {"s": 14, "t": 2.598, "I": -0.398},
      {"s": 14, "t": 2.601, "I": -0.048}, {"s": 14, "t": 2.61, "I": -0.025}, {"s": 14, "t": 2.62, "I": -0.013}, {"s": 14, "t": 2.635, "I": -0.007},
      {"s": 14, "t": 2.65, "I": -0.006}, {"s": 14, "t": 2.665, "I": -0.004}, {"s": 14, "t": 2.68, "I": -0.006}, {"s": 14, "t": 2.7, "I": -0.004},

      {"s": 15, "t": 1.6, "I": -0.515}, {"s": 15, "t": 1.601, "I": -0.46},
      {"s": 15, "t": 1.61, "I": -0.47}, {"s": 15, "t": 1.62, "I": -0.462}, {"s": 15, "t": 1.635, "I": -0.468}, {"s": 15, "t": 1.65, "I": -0.455},
      {"s": 15, "t": 1.67, "I": -0.449}, {"s": 15, "t": 1.69, "I": -0.458}, {"s": 15, "t": 1.71, "I": -0.462}, {"s": 15, "t": 1.74, "I": -0.455},
      {"s": 15, "t": 1.77, "I": -0.448}, {"s": 15, "t": 1.8, "I": -0.453}, {"s": 15, "t": 1.83, "I": -0.445}, {"s": 15, "t": 1.86, "I": -0.452},
      {"s": 15, "t": 1.89, "I": -0.447}, {"s": 15, "t": 1.92, "I": -0.454}, {"s": 15, "t": 1.95, "I": -0.448}, {"s": 15, "t": 1.98, "I": -0.453},
      {"s": 15, "t": 2.01, "I": -0.446}, {"s": 15, "t": 2.04, "I": -0.453}, {"s": 15, "t": 2.07, "I": -0.448}, {"s": 15, "t": 2.1, "I": -0.455},
      {"s": 15, "t": 2.13, "I": -0.447}, {"s": 15, "t": 2.16, "I": -0.452}, {"s": 15, "t": 2.19, "I": -0.446}, {"s": 15, "t": 2.22, "I": -0.453},
      {"s": 15, "t": 2.25, "I": -0.448}, {"s": 15, "t": 2.28, "I": -0.454}, {"s": 15, "t": 2.31, "I": -0.447}, {"s": 15, "t": 2.34, "I": -0.452},
      {"s": 15, "t": 2.37, "I": -0.445}, {"s": 15, "t": 2.4, "I": -0.453}, {"s": 15, "t": 2.43, "I": -0.448}, {"s": 15, "t": 2.46, "I": -0.454},
      {"s": 15, "t": 2.49, "I": -0.447}, {"s": 15, "t": 2.52, "I": -0.452}, {"s": 15, "t": 2.55, "I": -0.446}, {"s": 15, "t": 2.58, "I": -0.45},
      {"s": 15, "t": 2.598, "I": -0.447},
      {"s": 15, "t": 2.601, "I": -0.06}, {"s": 15, "t": 2.61, "I": -0.03}, {"s": 15, "t": 2.62, "I": -0.016}, {"s": 15, "t": 2.635, "I": -0.008},
      {"s": 15, "t": 2.65, "I": -0.005}, {"s": 15, "t": 2.665, "I": -0.007}, {"s": 15, "t": 2.68, "I": -0.005}, {"s": 15, "t": 2.7, "I": -0.006}
    ]
  },
  "layer": [
    {
      "data": {"name": "sweeps"},
      "transform": [{"filter": "datum.s == 'p'"}],
      "mark": {"type": "line", "color": "black", "strokeWidth": 3.2, "strokeJoin": "round"},
      "encoding": {
        "x": {
          "field": "t",
          "type": "quantitative",
          "scale": {"domain": [0, 2.7], "nice": false, "zero": false},
          "axis": {
            "values": [0.1, 1.6, 2.6],
            "format": ".1f",
            "title": "t [s]",
            "grid": false,
            "tickSize": -6,
            "labelPadding": 19,
            "labelFlush": false,
            "labelFont": "DejaVu Sans",
            "labelFontSize": 22,
            "labelColor": "#262626",
            "titleFont": "DejaVu Sans",
            "titleFontSize": 25,
            "titleFontWeight": "normal",
            "titleColor": "#262626",
            "titlePadding": 6,
            "domainColor": "#404040",
            "tickColor": "#404040"
          }
        },
        "y": {
          "field": "I",
          "type": "quantitative",
          "scale": {"domain": [-0.62, 0.135], "nice": false, "zero": false},
          "axis": {
            "values": [0, -0.2, -0.4, -0.6],
            "labelExpr": "datum.value == 0 ? '0' : '-' + format(-datum.value, '.1f')",
            "title": "I [nA]",
            "grid": false,
            "tickSize": -6,
            "labelPadding": {"condition": {"test": "datum.value == 0", "value": 37}, "value": 16},
            "labelFont": "DejaVu Sans",
            "labelFontSize": 22,
            "labelColor": "#262626",
            "titleFont": "DejaVu Sans",
            "titleFontSize": 26,
            "titleFontWeight": "normal",
            "titleColor": "#262626",
            "titlePadding": 6,
            "domainColor": "#404040",
            "tickColor": "#404040"
          }
        }
      }
    },
    {
      "data": {"name": "sweeps"},
      "transform": [{"filter": "datum.s != 'p'"}],
      "mark": {"type": "line", "color": "black", "strokeWidth": 2, "strokeJoin": "round"},
      "encoding": {
        "x": {"field": "t", "type": "quantitative", "axis": {"title": "t [s]"}},
        "y": {"field": "I", "type": "quantitative", "axis": {"title": "I [nA]"}},
        "detail": {"field": "s", "type": "nominal"}
      }
    },
    {
      "data": {"values": [{"label": "HCN1\u00a0 Human\u00a0 CHO_FT"}]},
      "mark": {"type": "text", "align": "left", "baseline": "alphabetic", "font": "DejaVu Sans", "fontSize": 23.5, "fontWeight": "bold", "color": "black"},
      "encoding": {
        "x": {"datum": 0.062, "type": "quantitative"},
        "y": {"datum": 0.164, "type": "quantitative"},
        "text": {"field": "label"}
      }
    },
    {
      "data": {"values": [{"label": "25 °C\u00a0 Deactivation"}]},
      "mark": {"type": "text", "align": "right", "baseline": "middle", "font": "DejaVu Sans", "fontSize": 18.5, "color": "black"},
      "encoding": {
        "x": {"datum": 2.684, "type": "quantitative"},
        "y": {"datum": 0.138, "type": "quantitative"},
        "text": {"field": "label"}
      }
    },
    {
      "data": {"values": [{"label": "BBP Channelpedia ID 40266 rep 2"}]},
      "mark": {"type": "text", "angle": 270, "align": "center", "baseline": "middle", "font": "DejaVu Sans", "fontSize": 13.5, "color": "black"},
      "encoding": {
        "x": {"datum": 2.745, "type": "quantitative"},
        "y": {"datum": -0.2424, "type": "quantitative"},
        "text": {"field": "label"}
      }
    }
  ]
}
